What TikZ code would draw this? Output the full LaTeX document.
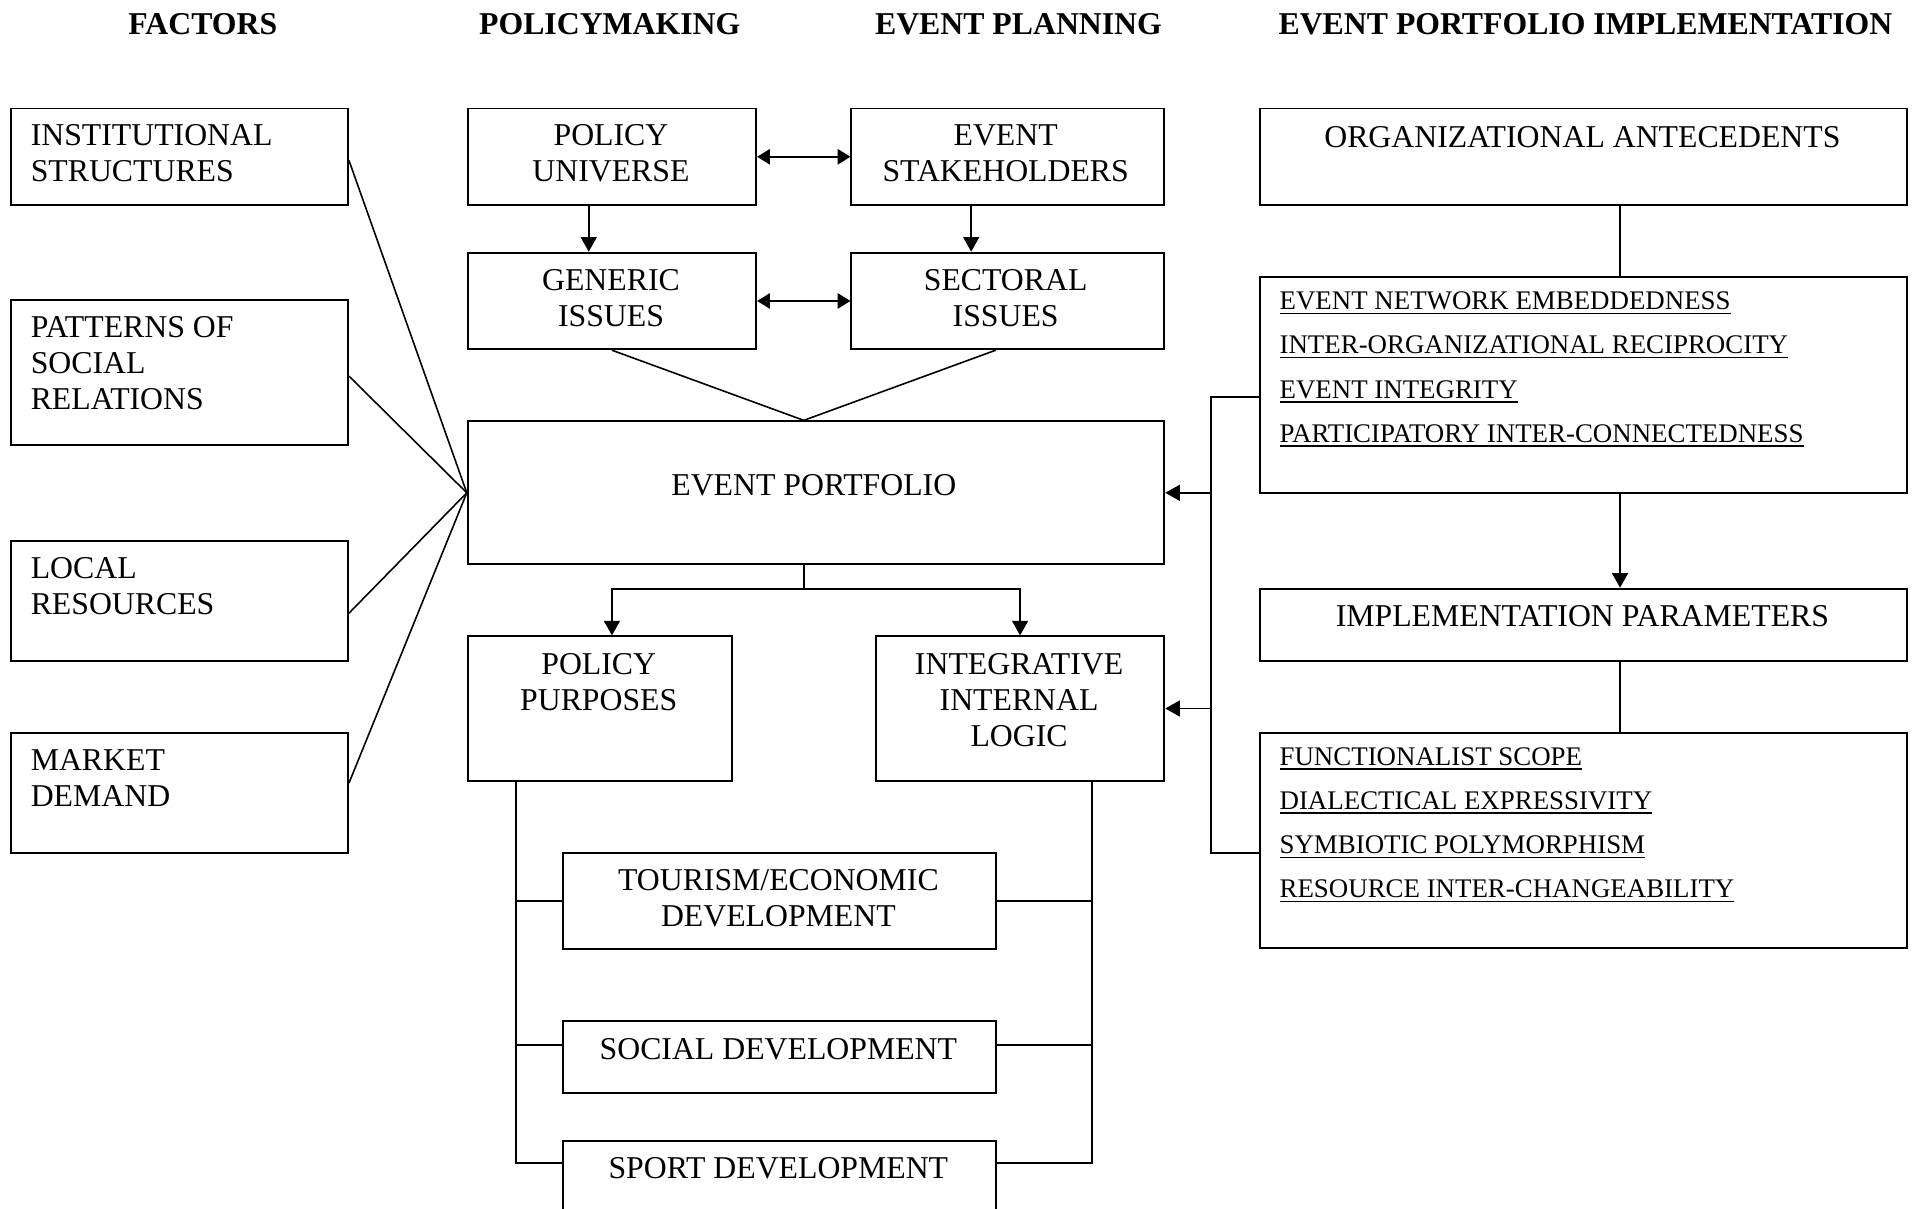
\documentclass[tikz,border=0pt]{standalone}
\usepackage{fontspec}
\setmainfont{Liberation Serif}
\usetikzlibrary{arrows.meta}
% underlined list entry with a fixed rule
\newcommand\ulitem[1]{\setbox0\hbox{#1}\rlap{\rule[-3.6pt]{\wd0}{1.3pt}}\box0}
\begin{document}
\begin{tikzpicture}[x=1pt,y=-1pt,
  box/.style={draw, line width=1.6pt, rectangle, inner sep=0pt, anchor=north west},
  lbl/.style={inner sep=0pt, anchor=north, align=center, font=\fontsize{26}{29.5}\selectfont},
  lbll/.style={lbl, anchor=north west, align=left},
  lst/.style={inner sep=0pt, anchor=north west, align=left, font=\fontsize{22}{36.2}\selectfont},
  hdr/.style={inner sep=0pt, anchor=north, font=\fontsize{26}{30}\selectfont\bfseries},
  link/.style={line width=1.6pt},
  thin/.style={line width=1.3pt},
  arr/.style={link, -{Triangle[length=12pt,width=13pt]}},
  darr/.style={link, {Triangle[length=10.5pt,width=12.5pt]}-{Triangle[length=10.5pt,width=12.5pt]}},
]
\useasboundingbox (0,0) rectangle (1568,989);
\clip (0,0) rectangle (1568,989);

% column headings
\node[hdr] (h1) at (166,11) {FACTORS};
\node[hdr] (h2) at (499,11) {POLICYMAKING};
\node[hdr] (h3) at (833.5,11) {EVENT PLANNING};
\node[hdr] (h4) at (1297.5,11) {EVENT PORTFOLIO IMPLEMENTATION};

% factors
\node[box, minimum width=276pt, minimum height=79pt] (ins) at (8,88) {};
\node[lbll] (ins-t) at (25,102) {INSTITUTIONAL\\STRUCTURES};
\node[box, minimum width=276pt, minimum height=118pt] (pat) at (8,245) {};
\node[lbll] (pat-t) at (25,259) {PATTERNS OF\\SOCIAL\\RELATIONS};
\node[box, minimum width=276pt, minimum height=98pt] (loc) at (8,442) {};
\node[lbll] (loc-t) at (25,456) {LOCAL\\RESOURCES};
\node[box, minimum width=276pt, minimum height=98pt] (mkt) at (8,599) {};
\node[lbll] (mkt-t) at (25,613) {MARKET\\DEMAND};

% policymaking / event planning
\node[box, minimum width=236pt, minimum height=79pt] (pu) at (382,88) {};
\node[lbl] (pu-t) at (500,102) {POLICY\\UNIVERSE};
\node[box, minimum width=256pt, minimum height=79pt] (es) at (696,88) {};
\node[lbl] (es-t) at (823,102) {EVENT\\STAKEHOLDERS};
\node[box, minimum width=236pt, minimum height=79pt] (gi) at (382,206) {};
\node[lbl] (gi-t) at (500,220) {GENERIC\\ISSUES};
\node[box, minimum width=256pt, minimum height=79pt] (si) at (696,206) {};
\node[lbl] (si-t) at (823,220) {SECTORAL\\ISSUES};
\node[box, minimum width=570pt, minimum height=117pt] (ep) at (382,344) {};
\node[lbl] (ep-t) at (666,388) {EVENT PORTFOLIO};
\node[box, minimum width=216pt, minimum height=118pt] (pp) at (382,520) {};
\node[lbl] (pp-t) at (490,534.5) {POLICY\\PURPOSES};
\node[box, minimum width=236pt, minimum height=118pt] (iil) at (716,520) {};
\node[lbl] (iil-t) at (834,534.5) {INTEGRATIVE\\INTERNAL\\LOGIC};
\node[box, minimum width=354pt, minimum height=79pt] (tou) at (460,697) {};
\node[lbl] (tou-t) at (637,711.5) {TOURISM/ECONOMIC\\DEVELOPMENT};
\node[box, minimum width=354pt, minimum height=59pt] (soc) at (460,834.5) {};
\node[lbl] (soc-t) at (637,849.5) {SOCIAL DEVELOPMENT};
\node[box, minimum width=354pt, minimum height=90pt] (sp) at (460,933) {};
\node[lbl] (sp-t) at (637,947) {SPORT DEVELOPMENT};

% implementation
\node[box, minimum width=530pt, minimum height=79pt] (oa) at (1030,88) {};
\node[lbl] (oa-t) at (1295,103) {ORGANIZATIONAL ANTECEDENTS};
\node[box, minimum width=530pt, minimum height=177pt] (ene) at (1030,226) {};
\node[lst] (ene-t) at (1047,238.7) {\ulitem{EVENT NETWORK EMBEDDEDNESS}\\\ulitem{INTER-ORGANIZATIONAL RECIPROCITY}\\\ulitem{EVENT INTEGRITY}\\\ulitem{PARTICIPATORY INTER-CONNECTEDNESS}};
\node[box, minimum width=530pt, minimum height=59pt] (ip) at (1030,481) {};
\node[lbl] (ip-t) at (1295,495) {IMPLEMENTATION PARAMETERS};
\node[box, minimum width=530pt, minimum height=176pt] (fs) at (1030,599) {};
\node[lst] (fs-t) at (1047,611.5) {\ulitem{FUNCTIONALIST SCOPE}\\\ulitem{DIALECTICAL EXPRESSIVITY}\\\ulitem{SYMBIOTIC POLYMORPHISM}\\\ulitem{RESOURCE INTER-CHANGEABILITY}};

% factors feeding the portfolio
\draw[thin] ([yshift=-3pt]ins.east) -- (ep.west);
\draw[thin] ([yshift=-3pt]pat.east) -- (ep.west);
\draw[thin] ([yshift=-10pt]loc.east) -- (ep.west);
\draw[thin] ([yshift=8pt]mkt.east) -- (ep.west);

% policymaking and planning links
\draw[darr] (pu.east) -- (es.west);
\draw[darr] (gi.east) -- (si.west);
\draw[arr] ([xshift=-19pt]pu.south) -- ([xshift=-19pt]gi.north);
\draw[arr] ([xshift=-30pt]es.south) -- ([xshift=-30pt]si.north);
\coordinate (apex) at ([xshift=-10pt]ep.north);
\draw[thin] (gi.south) -- (apex) -- ([xshift=-10pt]si.south);

% portfolio split
\coordinate (epb) at ([xshift=-10pt]ep.south);
\coordinate (split) at ([yshift=-19.5pt]epb);
\draw[link] (epb) -- (split);
\draw[arr] (split) -| ([xshift=10pt]pp.north);
\draw[arr] (split) -| (iil.north);

% development trunks
\coordinate (lt) at ([xshift=-68.5pt]pp.south);
\coordinate (rt) at ([xshift=58.7pt]iil.south);
\draw[link] (lt) |- ([yshift=-19pt]sp.north west);
\draw[link] (lt |- tou.west) -- (tou.west);
\draw[link] (lt |- soc.west) ++(0,-10) -- ([yshift=10pt]soc.west);
\draw[link] (rt) |- ([yshift=-19pt]sp.north east);
\draw[link] (rt |- tou.east) -- (tou.east);
\draw[link] (rt |- soc.east) ++(0,-10) -- ([yshift=10pt]soc.east);

% implementation chain
\draw[link] ([xshift=30pt]oa.south) -- ([xshift=30pt]ene.north);
\draw[arr] ([xshift=30pt]ene.south) -- ([xshift=30pt]ip.north);
\draw[link] ([xshift=30pt]ip.south) -- ([xshift=30pt]fs.north);

% feedback bracket
\coordinate (brk) at (991,0);
\coordinate (j1) at ([yshift=-9.5pt]ene.west);
\coordinate (j2) at ([yshift=-10pt]fs.west);
\draw[link] (j1) -| (brk |- j2) -- (j2);
\draw[arr] (brk |- ep.east) -- (ep.east);
\draw[arr] (brk |- iil.east) -- (iil.east);
\end{tikzpicture}
\end{document}
